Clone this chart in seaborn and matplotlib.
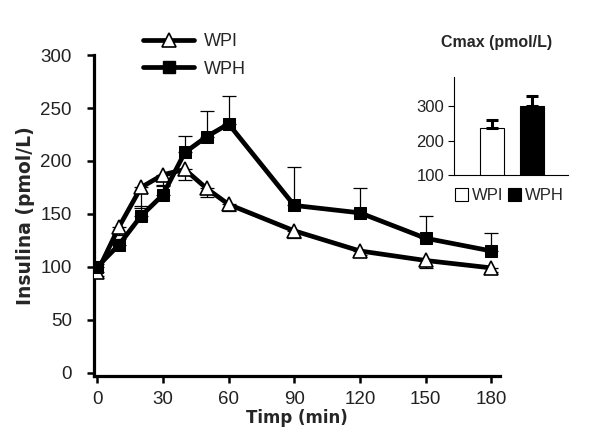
import seaborn as sns
import matplotlib.pyplot as plt
import matplotlib.patches as mpatches
from matplotlib.lines import Line2D
import pandas as pd
import numpy as np

# data
time_min = [0, 10, 20, 30, 40, 50, 60, 90, 120, 150, 180]
wpi_mean = [95, 138, 175, 187, 192, 174, 159, 134, 115, 106, 99]
wpi_err_low = [4, 8, 19, 10, 10, 8, 6, 7, 4, 7, 4]
wph_mean = [100, 121, 148, 168, 208, 223, 235, 158, 151, 127, 115]
wph_err_up = [3, 5, 9, 8, 16, 24, 26, 36, 23, 21, 17]

cmax_groups = ["WPI", "WPH"]
cmax_mean = [236, 300]
cmax_err = [25, 31]

x_ticks = [0, 30, 60, 90, 120, 150, 180]
y_ticks = [0, 50, 100, 150, 200, 250, 300]
inset_y_ticks = [100, 200, 300]

sns.set_style("ticks")
plt.rcParams["font.family"] = ["Liberation Sans", "DejaVu Sans"]

df = pd.DataFrame({
    "Timp": time_min * 2,
    "Insulina": wpi_mean + wph_mean,
    "grup": ["WPI"] * len(time_min) + ["WPH"] * len(time_min),
})

fig = plt.figure(figsize=(5.91, 4.48), dpi=100)
ax = fig.add_axes([0.159, 0.161, 0.687, 0.716])

# error bars first so markers sit on top
ax.errorbar(time_min, wpi_mean, yerr=[wpi_err_low, [0] * len(time_min)],
            fmt="none", ecolor="black", elinewidth=0.9, capsize=5, capthick=0.9, zorder=1)
ax.errorbar(time_min, wph_mean, yerr=[[0] * len(time_min), wph_err_up],
            fmt="none", ecolor="black", elinewidth=0.9, capsize=5, capthick=0.9, zorder=1)

sns.lineplot(data=df, x="Timp", y="Insulina", hue="grup", style="grup",
             palette={"WPI": "black", "WPH": "black"},
             markers={"WPI": "^", "WPH": "s"}, dashes=False,
             linewidth=3.4, markersize=9, legend=False, ax=ax, zorder=3)
# triangles are open
for line in ax.get_lines():
    if line.get_marker() == "^":
        line.set_markerfacecolor("white")
        line.set_markeredgecolor("black")
        line.set_markeredgewidth(1.2)
        line.set_markersize(10)
    elif line.get_marker() == "s":
        line.set_markerfacecolor("black")
        line.set_markeredgecolor("black")

ax.set_xlim(-1.5, 184)
ax.set_ylim(-3, 300)
ax.set_xticks(x_ticks)
ax.set_yticks(y_ticks)
ax.tick_params(axis="both", labelsize=13.5, width=1.8, length=5, colors="black",
               labelcolor="#222222", direction="out")
ax.tick_params(axis="y", pad=11)
ax.tick_params(axis="x", pad=6)
ax.set_xlabel("Timp (min)", fontsize=12, fontweight="bold", family="DejaVu Sans", labelpad=0.5)
ax.set_ylabel("Insulina (pmol/L)", fontsize=13.5, fontweight="bold", family="DejaVu Sans", labelpad=4)
for side in ["top", "right"]:
    ax.spines[side].set_visible(False)
for side in ["left", "bottom"]:
    ax.spines[side].set_linewidth(2.3)
    ax.spines[side].set_color("black")

handles = [
    Line2D([], [], color="black", lw=3.4, marker="^", markersize=10,
           markerfacecolor="white", markeredgecolor="black", markeredgewidth=1.2),
    Line2D([], [], color="black", lw=3.4, marker="s", markersize=8,
           markerfacecolor="black"),
]
fig.legend(handles, ["WPI", "WPH"], loc="upper left", bbox_to_anchor=(0.215, 0.963),
           frameon=False, fontsize=13, handlelength=2.8, handletextpad=0.55,
           labelspacing=0.6)

# inset Cmax
axi = fig.add_axes([0.768, 0.609, 0.193, 0.219])
sns.barplot(x=cmax_groups, y=cmax_mean, hue=cmax_groups,
            palette={"WPI": "white", "WPH": "black"}, width=0.62,
            edgecolor="black", linewidth=0.8, legend=False, ax=axi)
axi.errorbar([0, 1], cmax_mean, yerr=[[0, 0], cmax_err], fmt="none",
             ecolor="black", elinewidth=2.2, capsize=4.5, capthick=2.2)
axi.set_ylim(100, 385)
axi.set_xlim(-0.95, 1.9)
axi.set_yticks(inset_y_ticks)
axi.set_xticks([])
axi.set_xlabel("")
axi.set_ylabel("")
axi.tick_params(axis="y", labelsize=12, width=0.8, length=4, colors="black",
                labelcolor="#222222", pad=3)
for side in ["top", "right"]:
    axi.spines[side].set_visible(False)
for side in ["left", "bottom"]:
    axi.spines[side].set_linewidth(0.8)
    axi.spines[side].set_color("black")
fig.text(0.84, 0.905, "Cmax (pmol/L)", ha="center", va="center",
         fontsize=11.5, fontweight="bold")

bar_handles = [
    mpatches.Patch(facecolor="white", edgecolor="black", linewidth=0.8),
    mpatches.Patch(facecolor="black", edgecolor="black", linewidth=0.8),
]
fig.legend(bar_handles, cmax_groups, loc="center", bbox_to_anchor=(0.862, 0.563),
           ncol=2, frameon=False, fontsize=12, handlelength=0.75, handleheight=0.75,
           handletextpad=0.25, columnspacing=0.3)

plt.savefig("out.png", dpi=100)
